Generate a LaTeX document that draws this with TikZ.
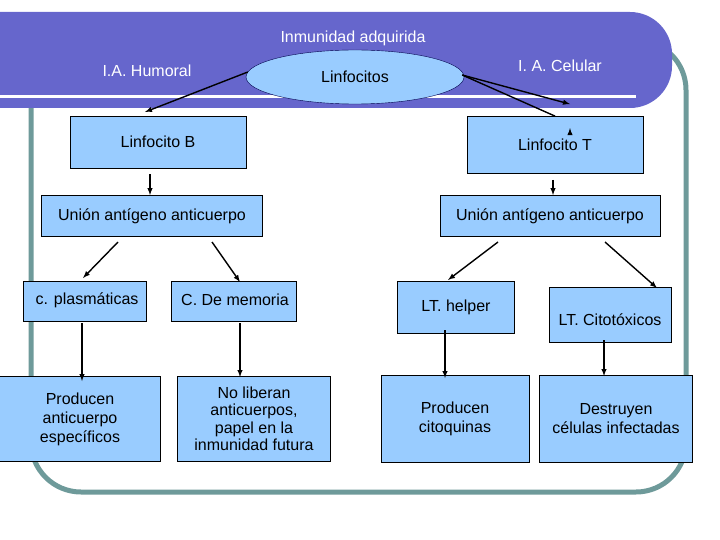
\documentclass[tikz,border=0pt]{standalone}
\usepackage{fontspec}
\setmainfont{Liberation Sans}
\usetikzlibrary{shapes.geometric}
\definecolor{band}{HTML}{6666CC}
\definecolor{frame}{HTML}{6E9A9A}
\definecolor{boxc}{HTML}{99CCFF}
\begin{document}
\begin{tikzpicture}[x=1pt,y=-1pt,
  bx/.style={draw=black,fill=boxc,line width=0.8pt,align=center,font=\fontsize{16}{19}\selectfont},
  wt/.style={text=white,font=\fontsize{16}{19}\selectfont},
  ar/.style={-latex,line width=1.4pt}]
\useasboundingbox (0,0) rectangle (720,540);
\draw[frame,line width=5pt,rounded corners=50pt] (31,40) rectangle (686,492);
\fill[band,rounded corners=42pt] (-50,12) rectangle (672,108);
\fill[band] (0,12) rectangle (100,108);
\fill[white] (0,95) rectangle (636,98);
\node[wt] (t) at (353,38) {Inmunidad adquirida};
\node[wt] (h) at (147,71) {I.A. Humoral};
\node[wt] (c) at (560,66) {I. A. Celular};
\node[ellipse,draw=black!70!blue,fill=boxc,minimum width=218pt,minimum height=54pt,font=\fontsize{16}{19}\selectfont] (e) at (355,77) {Linfocitos};
\newcommand{\bxn}[6]{\node[bx,minimum width=#4-#2,minimum height=#5-#3,inner sep=0pt] (#1) at ({(#2+#4)/2},{(#3+#5)/2}) {#6};}
\node[bx,minimum width=176pt,minimum height=52pt,inner sep=0pt] (lb) at (158,142) {Linfocito B};
\node[bx,minimum width=176pt,minimum height=57pt,inner sep=0pt] (lt) at (555,145) {Linfocito T};
\node[bx,minimum width=221pt,minimum height=41pt,inner sep=0pt] (ub) at (152,216) {Unión antígeno anticuerpo};
\node[bx,minimum width=220pt,minimum height=41pt,inner sep=0pt] (ut) at (550,216) {Unión antígeno anticuerpo};
\node[bx,minimum width=123pt,minimum height=40pt,inner sep=0pt] (cp) at (85,301) {};
\node[font=\fontsize{16}{19}\selectfont] (cpt) at (87,300) {c. plasmáticas};
\node[bx,minimum width=125pt,minimum height=40pt,inner sep=0pt] (cm) at (234,301) {};
\node[font=\fontsize{16}{19}\selectfont] (cmt) at (235,300) {C. De memoria};
\node[bx,minimum width=117pt,minimum height=52pt,inner sep=0pt] (lh) at (456,307) {LT. helper};
\node[bx,minimum width=122pt,minimum height=55pt,inner sep=0pt] (lc) at (610,315) {};
\node[font=\fontsize{16}{19}\selectfont] (lct) at (610,320) {LT. Citotóxicos};
\node[bx,minimum width=161pt,minimum height=85pt,inner sep=0pt] (pa) at (80,419) {Producen\\anticuerpo\\específicos};
\node[bx,minimum width=153pt,minimum height=85pt,inner sep=0pt,font=\fontsize{16}{17.5}\selectfont] (nl) at (254,419) {No liberan\\anticuerpos,\\papel en la\\inmunidad futura};
\node[bx,minimum width=148pt,minimum height=87pt,inner sep=0pt] (pc) at (455,419) {Producen\\citoquinas};
\node[bx,minimum width=153pt,minimum height=87pt,inner sep=0pt] (de) at (616,419) {Destruyen\\células infectadas};
\coordinate (a1) at (145,112); \coordinate (a2) at (390,128);
\draw[ar] (e.west) ++(2,-5) -- (a1);
\draw[ar] (e.east) ++(-2,-2) -- (lt.north) ++(15,12);
\draw[ar] (e.east) ++(-2,-2) -- ([xshift=15pt,yshift=12pt]lt.north);
\draw[ar] ([yshift=-6pt]lb.south -| 150,0) -- (ub.north -| 150,0);
\draw[ar] ([yshift=-6pt]lt.south -| 553,0) -- (ut.north -| 553,0);
\draw[ar] (118,242) -- (83,278);
\draw[ar] (212,242) -- (240,282);
\draw[ar] (498,242) -- (448,280);
\draw[ar] (605,242) -- (657,288);
\draw[ar] (82,323) -- (82,381);
\draw[ar] (240,323) -- (240,377);
\draw[ar] (445,330) -- (445,378);
\draw[ar] (604,340) -- (604,376);
\end{tikzpicture}
\end{document}
